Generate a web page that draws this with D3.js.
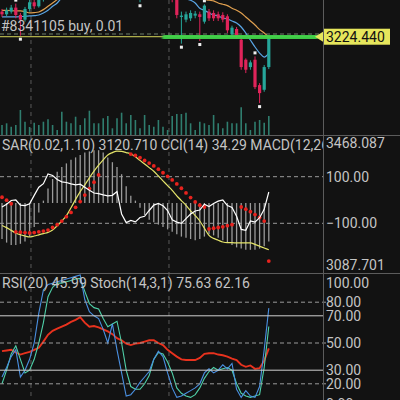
<!DOCTYPE html>
<html><head><meta charset="utf-8">
<script src="https://cdn.jsdelivr.net/npm/d3@7"></script>
<style>body{margin:0;background:#121212;}svg{display:block;}</style>
</head><body>
<svg id="chart" width="400" height="400"></svg>
<script>
// ---- bar data (oldest -> newest) ----
const openP  = [3262,3258,3262,3268,3257,3250,3266,3276,3270,3280,3290,3300,3306,3312,3318,3322,3330,3336,3332,3326,3322,3318,3314,3312,3306,3302,3296,3290,3292,3296,3290,3298,3302,3306,3310,3306,3300,3294,3280,3254,3250,3252,3256,3258,3247,3262,3260,3258,3257,3255,3228,3236,3220,3190,3179,3190,3152,3145,3179];
const highP  = [3266,3268,3272,3274,3260,3269,3282,3283,3286,3296,3306,3312,3318,3324,3330,3338,3344,3342,3336,3330,3326,3322,3318,3316,3310,3306,3300,3298,3302,3300,3302,3308,3312,3318,3316,3312,3304,3298,3284,3262,3262,3264,3263,3262,3273,3266,3264,3262,3261,3258,3241,3239,3225,3192,3189,3195,3155,3182,3226];
const lowP   = [3254,3255,3259,3252,3226,3247,3262,3266,3268,3277,3286,3296,3302,3308,3314,3318,3326,3328,3322,3318,3314,3310,3308,3302,3298,3292,3286,3284,3288,3286,3276,3294,3298,3302,3302,3296,3290,3276,3252,3214,3246,3248,3252,3218,3244,3248,3248,3248,3246,3230,3224,3222,3175,3170,3175,3146,3125,3142,3176];
const closeP = [3258,3264,3268,3257,3250,3266,3276,3270,3280,3290,3300,3306,3312,3318,3322,3330,3336,3332,3326,3322,3318,3314,3312,3306,3302,3296,3290,3292,3296,3290,3298,3302,3306,3310,3306,3300,3294,3280,3257,3256,3258,3260,3259,3254,3271,3252,3252,3252,3250,3234,3238,3226,3179,3175,3186,3149,3140,3179,3224.44];
const volume = [500,585,415,500,1250,665,400,615,500,665,785,500,250,1165,665,585,915,500,835,1215,585,585,835,950,335,835,1115,585,1000,750,335,1000,500,415,750,415,250,950,1050,1050,1115,585,250,665,585,500,1000,585,335,665,585,585,1385,585,250,665,750,615,950];
const maFast = [3254,3254,3254,3254,3254.5,3255,3255.5,3256,3257,3260,3264,3270,3275,3283,3290,3296,3302,3306,3310,3312,3314,3315,3316,3316,3315,3314,3312,3310,3308,3306,3304,3302,3300,3298,3296,3294,3292,3289,3286,3283,3281,3279,3275,3267,3264,3260,3257,3255.5,3252.5,3251,3248,3245,3239,3230,3219.5,3209,3200,3194,3200];
const maSlow = [3264,3264,3263.5,3263,3263,3262,3260,3260.5,3261.5,3265,3270,3275,3280,3285,3290,3294,3298,3301,3304,3306,3308,3309,3310,3310,3310,3309,3308,3307,3306,3305,3304,3303,3302,3301,3300,3298,3296,3294,3292,3290,3288,3286,3284,3282,3280.5,3279,3278,3275,3273,3271,3267,3264,3260,3254,3248,3242,3235,3230,3224];
const fractalUp = [3, 44, 55];
const fractalDown = [4, 30, 39, 43, 56];
const orderPrice = 3228.5;
const lastPrice = 3224.44;
const priceTicks = [3237.485, 3183.590, 3129.695, 3075.800];

// ---- SAR / CCI / MACD ----
const sar = [3298,3290,3280,3202,3201,3200,3199,3200,3202,3204,3207,3214,3222,3232,3244,3256,3270,3286,3304,3322,3340,3360,null,null,null,null,null,null,3418,3414,3408,3400,3393,3385,3376,3366,3356,3346,3335,3323,3310,3297,3285,3276,3271,3210,3212,3214,3216,3219,3222,null,3271,3265,3258,3250,3242,3232,3120.71];
const cci = [-30,-18,-2,0,-22,-24,-16,20,55,70,112,105,88,78,75,69,65,68,55,42,30,27,22,18,20,36,-60,-97,-88,-94,-75,-70,-45,-22,-15,-25,-45,-85,-95,-100,-80,-60,-47,-43,-18,-28,-15,-5,0,-24,-32,-70,-126,-130,-90,-95,-76,-40,34.29];
const macdHist = [-30,-33,-35,-35,-34,-32,-28,-20,-8,2,12,20,26,30,33,36,38,40,42,43,44,44,42,38,34,30,24,14,6,2,-4,-10,-14,-16,-18,-20,-22,-24,-26,-28,-29,-30,-31,-30,-28,-26,-27,-29,-31,-33,-35,-37,-38,-39,-39,-39,-38,-36,-32];
const macdSignal = [-18.7,-20.5,-22.8,-25,-26.5,-27.5,-28.3,-27.5,-26.5,-25.5,-24.5,-22.5,-19,-15,-10.5,-4,3,9.5,15,21,26.5,31.5,36,40,42,43.3,43,42,41,38.5,35.5,32.5,29.5,26.5,22.5,18.5,14.5,10.5,6,2,-2,-6.5,-10.5,-15,-21,-27,-29.5,-31,-32.5,-33,-33,-33.3,-33.3,-33.3,-33.3,-34.5,-36,-37.5,-39];
const sarRange = [3087.701, 3468.087];
const cciLevels = [100, -100];

// ---- RSI / Stochastic ----
const rsi = [44,44.5,45,43,41.5,42.5,43.5,45,46.5,51,56,59,60.5,62,63.5,65.5,67,69,65,62,62.5,61.5,60,58.5,56.5,53.5,52,49.5,48.5,49.5,50,51,52,52,50,48.5,45,42.5,40,38,37.5,37.5,37.5,39,42,42.5,42.5,41.5,41,40,38.5,37.5,34,32.5,33.5,31,31.5,37,45.99];
const stochMain = [25,32,40,45,25,30,38,50,72,89,93,94,95,96,97,98,99,100,82,73,70,68,60,50,64,45,28,11,12,16,21,25,29,38,44,40,28,17,10,11,13,15,17,20,28,31,28,30,34,31,35,16,10,15,11,10,18,45,75.63];
const stochSignal = [20,30,42,48,38,28,30,38,50,65,84,91,94,94,95,96,97,97.5,88,79,76,75,68,62,64,66,50,30,18,16,16,20,26,38,43,42,36,28,17,13,11,10,12,17,24,29,32,30,31,32,30,20,13,11,10,11,12,32,62.16];
const oscLevels = [{v:80,solid:false},{v:70,solid:true},{v:50,solid:false},{v:30,solid:true},{v:20,solid:false}];
const oscLabels = [100, 80, 70, 50, 30, 20, 0];

const headerMain = "#8341105 buy, 0.01";
const headerInd = "SAR(0.02,1.10) 3120.710 CCI(14) 34.29 MACD(12,26,9)";
const headerOsc = "RSI(20) 45.99 Stoch(14,3,1) 75.63 62.16";

// ---- layout ----
const plotR = 323;
const P1 = {top: 0, bottom: 135};
const P2 = {top: 136, bottom: 273};
const P3 = {top: 274, bottom: 400};
const FONT = "Roboto, 'Noto Sans', sans-serif";
const TXT = "#c4c4c4";

const svg = d3.select("#chart");
svg.append("rect").attr("width", 400).attr("height", 400).attr("fill", "#121212");
const defs = svg.append("defs");
function clip(id, x, y, w, h) {
  defs.append("clipPath").attr("id", id).append("rect").attr("x", x).attr("y", y).attr("width", w).attr("height", h);
  return "url(#" + id + ")";
}
const c1 = clip("c1", 0, P1.top, plotR, P1.bottom - P1.top);
const c2 = clip("c2", 0, P2.top, plotR, P2.bottom - P2.top);
const c3 = clip("c3", 0, P3.top, plotR, P3.bottom - P3.top);
const a1 = clip("a1", plotR, P1.top, 400 - plotR, P1.bottom - P1.top);
const blur = defs.append("filter").attr("id", "soft");
blur.append("feGaussianBlur").attr("stdDeviation", 0.9);

const N = closeP.length;
const idx = d3.range(N);
const x = d3.scaleLinear().domain([0, N - 1]).range([2, 268.8]);

// ---- scales ----
const yPrice = d3.scaleLinear().domain([3129.695, 3237.485]).range([100, 28]);
const yVol = d3.scaleLinear().domain([0, 1400]).range([P1.bottom, P1.bottom - 28]);
const ySar = d3.scaleLinear().domain(sarRange).range([P2.bottom, P2.top]);
const yCci = d3.scaleLinear().domain([-100, 100]).range([223.3, 176.7]);
const yMacd = d3.scaleLinear().domain([0, 40]).range([203, 155]);
const yOsc = d3.scaleLinear().domain([0, 100]).range([411, 275]);

// ---- vertical grid (all panels) ----
const gridIdx = [6.3, 36.3];
svg.append("g").selectAll("line").data(gridIdx).join("line")
  .attr("x1", d => x(d)).attr("x2", d => x(d)).attr("y1", 0).attr("y2", 400)
  .attr("stroke", "#5a5a5a").attr("stroke-width", 1).attr("stroke-dasharray", "4,4");

// ================= main panel =================
const g1 = svg.append("g").attr("clip-path", c1);
// volume
g1.append("g").selectAll("line").data(idx).join("line")
  .attr("x1", i => x(i)).attr("x2", i => x(i))
  .attr("y1", yVol(0)).attr("y2", i => yVol(volume[i]))
  .attr("stroke", "#2f7d6e").attr("stroke-width", 1.6);
// order line
g1.append("line").attr("x1", 0).attr("x2", plotR).attr("y1", yPrice(orderPrice)).attr("y2", yPrice(orderPrice))
  .attr("stroke", "#6f7f6a").attr("stroke-dasharray", "4,3");
// moving averages
const maLine = arr => d3.line().x(i => x(i)).y(i => yPrice(arr[i])).curve(d3.curveMonotoneX)(idx);
g1.append("path").attr("d", maLine(maSlow)).attr("fill", "none").attr("stroke", "#e0a050").attr("stroke-width", 1.2);
g1.append("path").attr("d", maLine(maFast)).attr("fill", "none").attr("stroke", "#5aa6e6").attr("stroke-width", 1.2);
// candles
const up = i => closeP[i] >= openP[i];
const cg = g1.append("g");
cg.selectAll("line").data(idx).join("line")
  .attr("x1", i => x(i)).attr("x2", i => x(i))
  .attr("y1", i => yPrice(highP[i])).attr("y2", i => yPrice(lowP[i]))
  .attr("stroke", i => up(i) ? "#26a69a" : "#e0245a").attr("stroke-width", 1);
cg.selectAll("rect").data(idx).join("rect")
  .attr("x", i => x(i) - 1.6).attr("width", 3.2)
  .attr("y", i => yPrice(Math.max(openP[i], closeP[i])))
  .attr("height", i => Math.max(1, Math.abs(yPrice(openP[i]) - yPrice(closeP[i]))))
  .attr("fill", i => up(i) ? "#26a69a" : "#e0245a");
// fractal markers
g1.selectAll("rect.fu").data(fractalUp).join("rect").attr("class", "fu")
  .attr("x", i => x(i) - 1.5).attr("y", i => yPrice(highP[i]) - 5).attr("width", 3).attr("height", 3).attr("fill", "#f0f0f0");
g1.selectAll("rect.fd").data(fractalDown).join("rect").attr("class", "fd")
  .attr("x", i => x(i) - 1.5).attr("y", i => yPrice(lowP[i]) + 2).attr("width", 3).attr("height", 3).attr("fill", "#f0f0f0");
// last price line
g1.append("line").attr("x1", 0).attr("x2", plotR).attr("y1", yPrice(lastPrice)).attr("y2", yPrice(lastPrice))
  .attr("stroke", "#d6d65a").attr("stroke-width", 1);
// hand-drawn highlight stroke along the last price
const brushPts = [[36.2, 3222.5], [40, 3221.5], [46, 3222.5], [52, 3224], [58, 3226], [63, 3226.5], [67.4, 3225.5]];
svg.append("path")
  .attr("d", d3.line().x(d => x(d[0])).y(d => yPrice(d[1])).curve(d3.curveBasis)(brushPts))
  .attr("fill", "none").attr("stroke", "#3fd34a").attr("stroke-width", 13).attr("stroke-linecap", "round")
  .attr("opacity", 0.95).attr("filter", "url(#soft)");
// header
svg.append("text").attr("x", 1).attr("y", 31).text(headerMain)
  .attr("font-family", FONT).attr("font-size", 14).attr("fill", TXT);

// right axis (price)
const ax1 = svg.append("g").attr("clip-path", a1).attr("transform", `translate(${plotR},0)`)
  .call(d3.axisRight(yPrice).tickValues(priceTicks).tickFormat(d3.format(".3f")).tickSize(0).tickPadding(3));
ax1.select(".domain").remove();
ax1.selectAll("text").attr("font-family", FONT).attr("font-size", 14).attr("fill", TXT);
// last-price badge
const by = yPrice(lastPrice);
svg.append("path").attr("d", `M${plotR - 8},${by} L${plotR},${by - 5} L${plotR},${by + 5}Z`).attr("fill", "#e6e65c");
svg.append("rect").attr("x", plotR).attr("y", by - 8).attr("width", 67).attr("height", 16).attr("fill", "#e6e65c");
svg.append("text").attr("x", plotR + 3).attr("y", by).attr("dy", "0.36em").text(d3.format(".3f")(lastPrice))
  .attr("font-family", FONT).attr("font-size", 14).attr("fill", "#111");

// ================= indicator panel =================
const g2 = svg.append("g").attr("clip-path", c2);
g2.selectAll("line.lvl").data(cciLevels).join("line").attr("class", "lvl")
  .attr("x1", 0).attr("x2", plotR + 4).attr("y1", d => yCci(d)).attr("y2", d => yCci(d))
  .attr("stroke", "#9a9a9a").attr("stroke-dasharray", "4,3");
// MACD histogram
g2.append("g").selectAll("line").data(idx).join("line")
  .attr("x1", i => x(i)).attr("x2", i => x(i))
  .attr("y1", yMacd(0)).attr("y2", i => yMacd(macdHist[i]))
  .attr("stroke", "#9b9b9b").attr("stroke-width", 1.3);
// MACD signal
g2.append("path").attr("d", d3.line().x(i => x(i)).y(i => yMacd(macdSignal[i])).curve(d3.curveMonotoneX)(idx))
  .attr("fill", "none").attr("stroke", "#e4e46a").attr("stroke-width", 1.2);
// SAR
g2.append("g").selectAll("circle").data(idx.filter(i => sar[i] !== null)).join("circle")
  .attr("cx", i => x(i)).attr("cy", i => ySar(sar[i])).attr("r", 1.9).attr("fill", "#e8231e");
// CCI
g2.append("path").attr("d", d3.line().x(i => x(i)).y(i => yCci(cci[i]))(idx))
  .attr("fill", "none").attr("stroke", "#ffffff").attr("stroke-width", 1.2);
svg.append("text").attr("x", 2).attr("y", 150).text(headerInd).attr("clip-path", c2)
  .attr("font-family", FONT).attr("font-size", 14).attr("fill", TXT);
const lab2 = [
  {t: d3.format(".3f")(sarRange[1]), y: P2.top + 7},
  {t: d3.format(".2f")(100), y: yCci(100)},
  {t: d3.format(".2f")(-100), y: yCci(-100)},
  {t: d3.format(".3f")(sarRange[0]), y: P2.bottom - 8}
];
svg.append("g").selectAll("text").data(lab2).join("text")
  .attr("x", plotR + 3).attr("y", d => d.y).attr("dy", "0.36em").text(d => d.t)
  .attr("font-family", FONT).attr("font-size", 14).attr("fill", TXT);

// ================= oscillator panel =================
const g3 = svg.append("g").attr("clip-path", c3);
svg.append("g").selectAll("line").data(oscLevels).join("line")
  .attr("x1", 0).attr("x2", d => d.solid ? plotR : plotR + 4)
  .attr("y1", d => yOsc(d.v)).attr("y2", d => yOsc(d.v))
  .attr("stroke", d => d.solid ? "#d0d0d0" : "#9a9a9a")
  .attr("stroke-dasharray", d => d.solid ? null : "4,3");
const oscPath = arr => d3.line().x(i => x(i)).y(i => yOsc(arr[i]))(idx);
g3.append("path").attr("d", oscPath(rsi)).attr("fill", "none").attr("stroke", "#e8321e").attr("stroke-width", 1.9);
g3.append("path").attr("d", oscPath(stochSignal)).attr("fill", "none").attr("stroke", "#4fd0a8").attr("stroke-width", 1.1);
g3.append("path").attr("d", oscPath(stochMain)).attr("fill", "none").attr("stroke", "#4a90e2").attr("stroke-width", 1.1);
svg.append("text").attr("x", 2).attr("y", 288).text(headerOsc)
  .attr("font-family", FONT).attr("font-size", 14).attr("fill", TXT);
svg.append("g").selectAll("text").data(oscLabels).join("text")
  .attr("x", plotR + 3).attr("y", d => Math.max(P3.top + 9, Math.min(404, yOsc(d)))).attr("dy", "0.36em")
  .text(d => d3.format(".2f")(d))
  .attr("font-family", FONT).attr("font-size", 14).attr("fill", TXT);

// ---- panel frames ----
svg.append("g").selectAll("line").data([P1.bottom + 0.5, P2.bottom + 0.5]).join("line")
  .attr("x1", 0).attr("x2", 400).attr("y1", d => d).attr("y2", d => d).attr("stroke", "#5c5c5c");
svg.append("line").attr("x1", plotR + 0.5).attr("x2", plotR + 0.5).attr("y1", 0).attr("y2", 400).attr("stroke", "#5c5c5c");
</script>
</body></html>
